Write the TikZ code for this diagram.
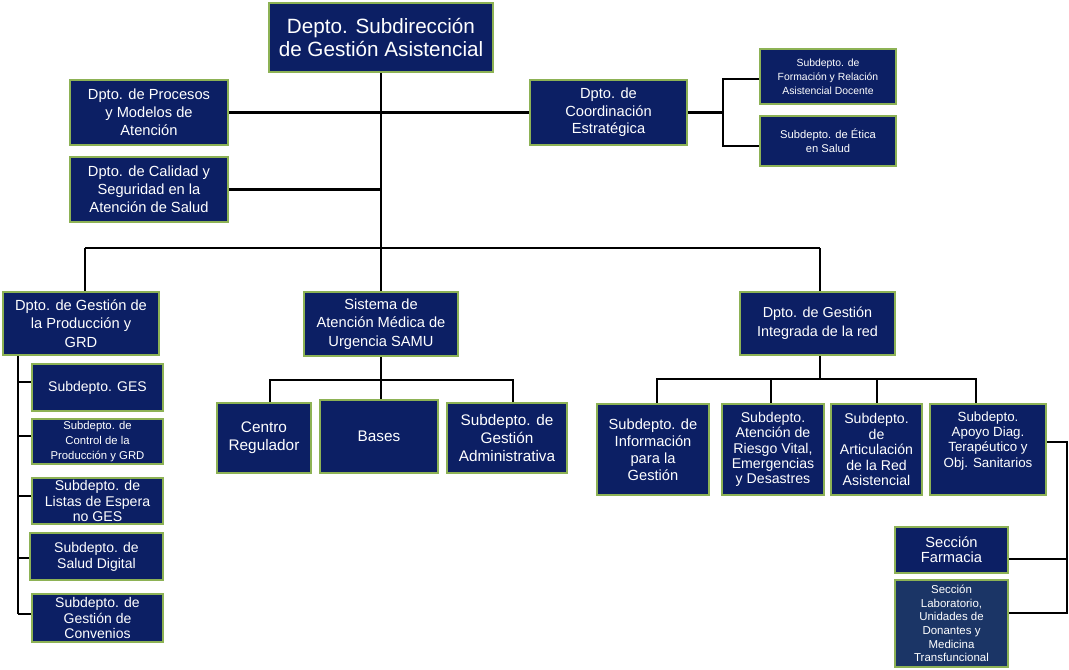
\documentclass[tikz,border=0pt]{standalone}
\usepackage{fontspec}
\setmainfont{Liberation Sans}
\definecolor{navy}{RGB}{12,31,100}
\definecolor{navyl}{RGB}{27,53,102}
\definecolor{edge}{RGB}{141,178,85}
\newcommand\fs[2]{\fontsize{#1}{#2}\selectfont}
\tikzset{
  box/.style={draw=edge, line width=1.7pt, fill=navy, text=white, align=center, inner sep=0pt},
  conn/.style={line width=1.9pt, draw=black},
}
% \obox[opts]{name}{x1}{y1}{x2}{y2}{font}{text}
\newcommand\obox[8][]{\node[box,#1,minimum width={(#5-#3)*0.75pt},minimum height={(#6-#4)*0.75pt},font=#7] (#2) at ({(#3+#5)/2},{(#4+#6)/2}) {#8};}
\begin{document}
\begin{tikzpicture}[x=0.75pt,y=-0.75pt]
\useasboundingbox (0,0) rectangle (1069,669);
\coordinate (j3) at (381,248);
\coordinate (bl) at (85,248);
\coordinate (br) at (820,248);
\coordinate (cv) at (723,112);
\coordinate (cvt) at (723,79);
\coordinate (cvb) at (723,146);
\coordinate (sbar) at (381,380);
\coordinate (s1) at (270,380);
\coordinate (s3) at (513,380);
\coordinate (ibar) at (820,379);
\coordinate (i1) at (657,379);
\coordinate (i2) at (771,379);
\coordinate (i3) at (877,379);
\coordinate (i4) at (976,379);
\coordinate (pv) at (18,355);
\coordinate (pvb) at (18,614);
\coordinate (ar) at (1067,442);
\coordinate (arb) at (1067,613);
\coordinate (af) at (1067,559);

% ---- boxes ----
\obox{top}{269}{3}{493}{72}{\fs{15.5}{17}}{Depto. Subdirección\\de Gestión Asistencial}
\obox{proc}{70}{80}{228}{145}{\fs{11}{13.5}}{Dpto. de Procesos\\y Modelos de\\Atención}
\obox{cal}{70}{157}{228}{222}{\fs{11}{13.5}}{Dpto. de Calidad y\\Seguridad en la\\Atención de Salud}
\obox{coord}{530}{80}{687}{145}{\fs{11}{13}}{Dpto. de\\Coordinación\\Estratégica}
\obox{form}{760}{49}{896}{104}{\fs{7.8}{10.5}}{Subdepto. de\\Formación y Relación\\Asistencial Docente}
\obox{etica}{760}{116}{896}{166}{\fs{8.4}{10.5}}{Subdepto. de Ética\\en Salud}

\obox{prod}{3}{292}{159}{355}{\fs{11}{14}}{Dpto. de Gestión de\\la Producción y\\GRD}
\obox{samu}{304}{292}{458}{356}{\fs{11}{13.8}}{Sistema de\\Atención Médica de\\Urgencia SAMU}
\obox{integ}{740}{292}{895}{355}{\fs{10.8}{14}}{Dpto. de Gestión\\Integrada de la red}

\obox{ges}{32}{364}{163}{411}{\fs{10.5}{12}}{Subdepto. GES}
\obox{ctrl}{32}{419}{163}{464}{\fs{8.5}{11.2}}{Subdepto. de\\Control de la\\Producción y GRD}
\obox{listas}{32}{478}{163}{524}{\fs{10.6}{11.6}}{Subdepto. de\\Listas de Espera\\no GES}
\obox{salud}{30}{533}{163}{580}{\fs{10.5}{12}}{Subdepto. de\\Salud Digital}
\obox{conv}{32}{594}{163}{642}{\fs{10.5}{11.6}}{Subdepto. de\\Gestión de\\Convenios}

\obox{centro}{217}{403}{311}{473}{\fs{11.5}{13.5}}{Centro\\Regulador}
\obox{bases}{320}{400}{438}{473}{\fs{11.5}{13.5}}{Bases}
\obox{admin}{447}{403}{567}{473}{\fs{11.5}{13.5}}{Subdepto. de\\Gestión\\Administrativa}

\obox{info}{597}{404}{709}{495}{\fs{11}{12.8}}{Subdepto. de\\Información\\para la\\Gestión}
\obox{aten}{722}{404}{824}{495}{\fs{10.6}{11.5}}{Subdepto.\\Atención de\\Riesgo Vital,\\Emergencias\\y Desastres}
\obox{artic}{831}{404}{922}{495}{\fs{10.6}{11.6}}{Subdepto.\\de\\Articulación\\de la Red\\Asistencial}
\obox{apoyo}{930}{404}{1046}{495}{\fs{10}{11.5}}{Subdepto.\\Apoyo Diag.\\Terapéutico y\\Obj. Sanitarios\\[4pt]\mbox{}}

\obox{farm}{895}{527}{1008}{573}{\fs{11}{11.3}}{Sección\\Farmacia}
\obox[fill=navyl]{lab}{895}{580}{1008}{667}{\fs{8.6}{10.2}}{Sección\\Laboratorio,\\Unidades de\\Donantes y\\Medicina\\Transfuncional}

% ---- connectors ----
\draw[conn] (top.south) -- (j3);
\draw[conn] (proc.east) -- (proc.east -| coord.west);
\draw[conn] (cal.east) -- (cal.east -| top.south);
\draw[conn] (coord.east) -- (coord.east -| cv);
\draw[conn] (form.west |- cvt) -- (cvt) -- (cvb) -- (etica.west |- cvb);
\draw[conn] (bl) -- (br);
\draw[conn] (bl) -- (bl |- prod.north);
\draw[conn] (j3) -- (samu.north);
\draw[conn] (br) -- (br |- integ.north);
% SAMU
\draw[conn] (samu.south) -- (sbar);
\draw[conn] (s1 |- centro.north) -- (s1) -- (s3) -- (s3 |- admin.north);
\draw[conn] (sbar) -- (sbar |- bases.north);
% Integrada
\draw[conn] (integ.south -| ibar) -- (ibar);
\draw[conn] (i1 |- info.north) -- (i1) -- (i4) -- (i4 |- apoyo.north);
\draw[conn] (i2) -- (i2 |- aten.north);
\draw[conn] (i3) -- (i3 |- artic.north);
% Produccion
\draw[conn] (pv |- prod.south) -- (pvb);
\draw[conn] (18,382) -- (18,382 -| ges.west);
\draw[conn] (18,436) -- (18,436 -| ctrl.west);
\draw[conn] (18,496) -- (18,496 -| listas.west);
\draw[conn] (18,558) -- (18,558 -| salud.west);
\draw[conn] (pvb) -- (pvb -| conv.west);
% Apoyo
\draw[conn] (apoyo.east |- ar) -- (ar) -- (arb) -- (arb -| lab.east);
\draw[conn] (af) -- (af -| farm.east);
\end{tikzpicture}
\end{document}
